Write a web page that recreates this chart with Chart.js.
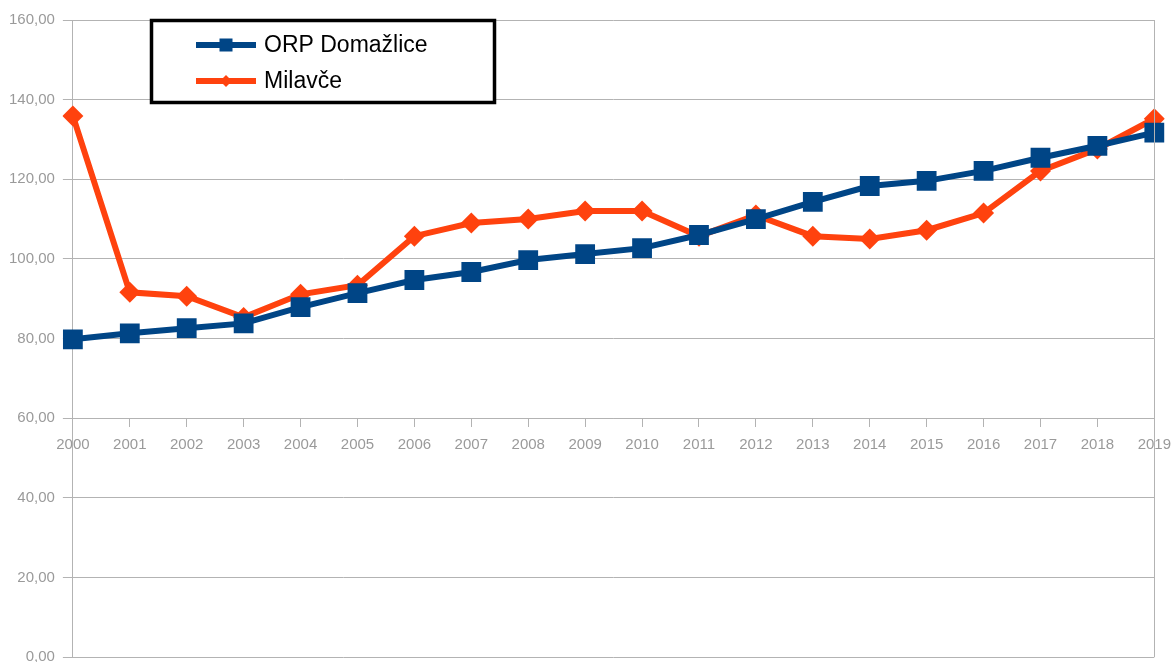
<!DOCTYPE html>
<html>
<head>
<meta charset="utf-8">
<script src="https://cdn.jsdelivr.net/npm/chart.js@4/dist/chart.umd.min.js"></script>
<style>
  html, body { margin: 0; padding: 0; background: #fff; overflow: hidden; }
  #wrap { width: 1180px; height: 671px; position: absolute; left: 1px; top: 3px; }
</style>
</head>
<body>
<div id="wrap"><canvas id="myChart"></canvas></div>
<script>
const years = ['2000', '2001', '2002', '2003', '2004', '2005', '2006', '2007', '2008', '2009',
  '2010', '2011', '2012', '2013', '2014', '2015', '2016', '2017', '2018', '2019'];
const domazlice = [79.8, 81.3, 82.6, 83.8, 87.9, 91.4, 94.7, 96.7, 99.7, 101.2,
  102.7, 106.0, 110.0, 114.3, 118.3, 119.6, 122.1, 125.4, 128.4, 131.7];
const milavce = [135.9, 91.6, 90.6, 85.3, 91.1, 93.4, 105.7, 109.0, 110.0, 112.0,
  112.0, 105.7, 111.0, 105.7, 105.0, 107.2, 111.5, 122.1, 127.6, 135.2];
const yTicks = [0, 20, 40, 60, 80, 100, 120, 140, 160];

const gridGrey = '#b3b3b3';
const labelGrey = '#9a9a9a';

// legend box + right border of plot area (canvas is shifted 1px right, 3px down)
const boxPlugin = {
  id: 'boxPlugin',
  afterDatasetsDraw(chart) {
    const ctx = chart.ctx;
    const a = chart.chartArea;
    ctx.save();
    ctx.strokeStyle = gridGrey;
    ctx.lineWidth = 1;
    ctx.beginPath();
    ctx.moveTo(Math.round(a.right) + 0.5, a.top);
    ctx.lineTo(Math.round(a.right) + 0.5, a.bottom);
    ctx.stroke();

    // legend
    const bx = 150, by = 17;
    ctx.fillStyle = '#fff';
    ctx.fillRect(bx, by, 343, 82);
    ctx.strokeStyle = '#000';
    ctx.lineWidth = 3.5;
    ctx.strokeRect(bx + 0.5, by + 0.5, 343, 82);
    chart.data.datasets.forEach((ds, i) => {
      const y = by + 25 + i * 36;
      ctx.strokeStyle = ds.borderColor;
      ctx.lineWidth = 6;
      ctx.beginPath();
      ctx.moveTo(bx + 45, y);
      ctx.lineTo(bx + 105, y);
      ctx.stroke();
      ctx.fillStyle = ds.borderColor;
      const cx = bx + 75;
      if (ds.pointStyle === 'rect') {
        ctx.fillRect(cx - 6.5, y - 6.5, 13, 13);
      } else {
        ctx.beginPath();
        ctx.moveTo(cx, y - 6);
        ctx.lineTo(cx + 6, y);
        ctx.lineTo(cx, y + 6);
        ctx.lineTo(cx - 6, y);
        ctx.closePath();
        ctx.fill();
      }
      ctx.fillStyle = '#000';
      ctx.font = '23px "Liberation Sans", Arial, sans-serif';
      ctx.textBaseline = 'middle';
      ctx.textAlign = 'left';
      ctx.fillText(ds.label, bx + 113, y + 1);
    });
    ctx.restore();
  }
};

const ctx = document.getElementById('myChart').getContext('2d');
const myChart = new Chart(ctx, {
  type: 'line',
  data: {
    labels: years,
    datasets: [
      {
        label: 'ORP Domažlice',
        data: domazlice,
        borderColor: '#004586',
        backgroundColor: '#004586',
        borderWidth: 6,
        pointStyle: 'rect',
        pointRadius: 14,
        pointHoverRadius: 14,
        pointBorderWidth: 0,
        tension: 0,
      },
      {
        label: 'Milavče',
        data: milavce,
        borderColor: '#ff420e',
        backgroundColor: '#ff420e',
        borderWidth: 6,
        pointStyle: 'rectRot',
        pointRadius: 10.5,
        pointHoverRadius: 10.5,
        pointBorderWidth: 0,
        tension: 0,
      },
    ],
  },
  options: {
    responsive: true,
    maintainAspectRatio: false,
    animation: false,
    layout: { padding: { top: 12, right: 19, bottom: 6, left: 0 } },
    plugins: {
      legend: { display: false },
      tooltip: { enabled: false },
    },
    scales: {
      x: {
        type: 'category',
        offset: false,
        position: { y: 60 },
        grid: {
          display: true,
          drawOnChartArea: false,
          drawTicks: true,
          tickLength: 8,
          color: gridGrey,
        },
        border: { display: true, color: gridGrey },
        ticks: {
          color: labelGrey,
          padding: 10,
          maxRotation: 0,
          autoSkip: false,
          font: { family: '"Liberation Sans", Arial, sans-serif', size: 15 },
        },
      },
      y: {
        min: 0,
        max: 160,
        afterBuildTicks(scale) {
          scale.ticks = yTicks.map((v) => ({ value: v }));
        },
        grid: {
          color: gridGrey,
          tickLength: 10,
        },
        border: { display: true, color: gridGrey },
        ticks: {
          color: labelGrey,
          padding: 8,
          font: { family: '"Liberation Sans", Arial, sans-serif', size: 15 },
          callback: (v) => v.toFixed(2).replace('.', ','),
        },
      },
    },
  },
  plugins: [boxPlugin],
});
</script>
</body>
</html>
